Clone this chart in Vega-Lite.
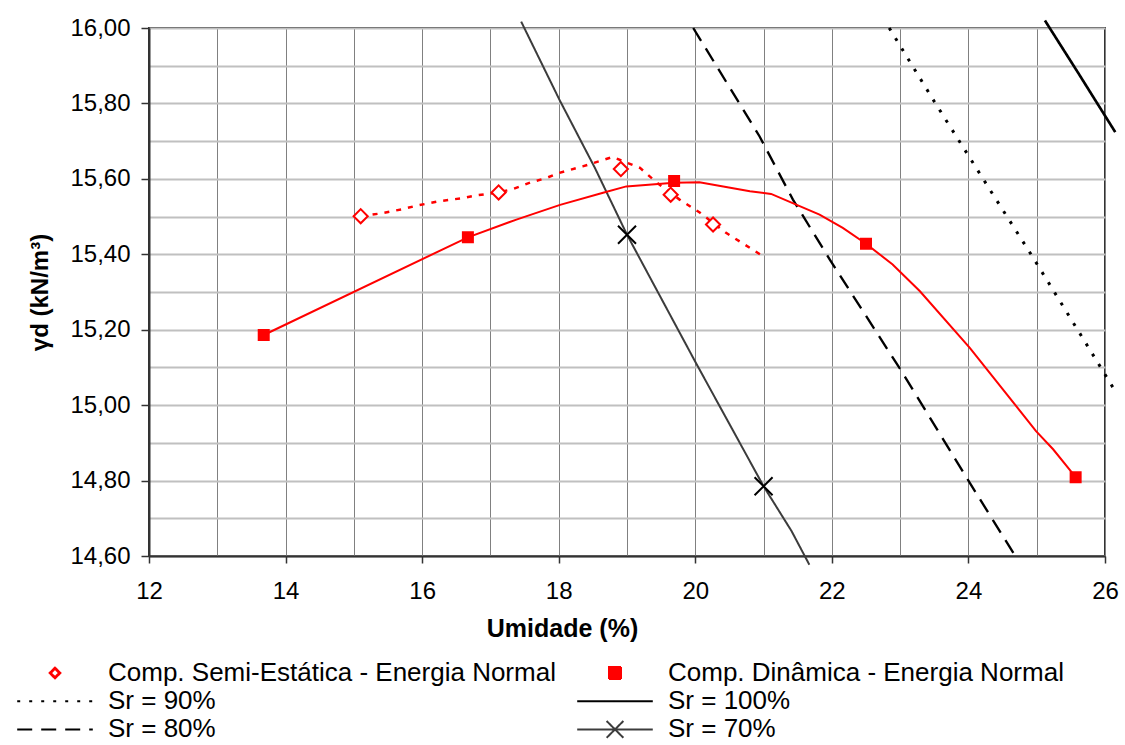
{
  "$schema": "https://vega.github.io/schema/vega-lite/v6.json",
  "width": 956,
  "height": 528,
  "autosize": {"type": "none"},
  "padding": {"left": 149, "top": 28, "right": 20, "bottom": 189},
  "background": "white",
  "config": {
    "font": "Liberation Sans",
    "view": {"stroke": "#333333", "strokeWidth": 2},
    "legend": {
      "orient": "none",
      "legendX": -107,
      "legendY": 632,
      "columns": 2,
      "labelFont": "Liberation Sans",
      "labelFontSize": 26,
      "labelColor": "#000000",
      "labelLimit": 700,
      "labelOffset": 40,
      "symbolSize": 144,
      "symbolStrokeWidth": 2,
      "symbolOpacity": 1,
      "columnPadding": 17,
      "rowPadding": 2.2
    }
  },
  "datasets": {
    "semiEstatica": [
      {"serie": "Comp. Semi-Estática - Energia Normal", "w": 15.10, "gd": 15.501},
      {"serie": "Comp. Semi-Estática - Energia Normal", "w": 17.12, "gd": 15.564},
      {"serie": "Comp. Semi-Estática - Energia Normal", "w": 18.91, "gd": 15.626},
      {"serie": "Comp. Semi-Estática - Energia Normal", "w": 19.64, "gd": 15.558},
      {"serie": "Comp. Semi-Estática - Energia Normal", "w": 20.26, "gd": 15.479}
    ],
    "dinamica": [
      {"serie": "Comp. Dinâmica - Energia Normal", "w": 13.68, "gd": 15.186},
      {"serie": "Comp. Dinâmica - Energia Normal", "w": 16.67, "gd": 15.445},
      {"serie": "Comp. Dinâmica - Energia Normal", "w": 19.69, "gd": 15.594},
      {"serie": "Comp. Dinâmica - Energia Normal", "w": 22.50, "gd": 15.428},
      {"serie": "Comp. Dinâmica - Energia Normal", "w": 25.57, "gd": 14.809}
    ],
    "ajusteSemi": [
      {"w": 15.10, "gd": 15.501}, {"w": 15.38, "gd": 15.508}, {"w": 15.72, "gd": 15.520},
      {"w": 15.92, "gd": 15.529}, {"w": 16.26, "gd": 15.541}, {"w": 16.60, "gd": 15.549},
      {"w": 16.79, "gd": 15.556}, {"w": 17.12, "gd": 15.564}, {"w": 17.33, "gd": 15.573},
      {"w": 17.58, "gd": 15.590}, {"w": 17.83, "gd": 15.603}, {"w": 18.01, "gd": 15.616},
      {"w": 18.35, "gd": 15.633}, {"w": 18.79, "gd": 15.658}, {"w": 19.19, "gd": 15.629},
      {"w": 19.43, "gd": 15.591}, {"w": 19.77, "gd": 15.545}, {"w": 20.07, "gd": 15.510},
      {"w": 20.45, "gd": 15.457}, {"w": 21.00, "gd": 15.394}
    ],
    "ajusteDinamica": [
      {"w": 13.68, "gd": 15.186}, {"w": 16.67, "gd": 15.445}, {"w": 17.38, "gd": 15.492},
      {"w": 18.02, "gd": 15.531}, {"w": 18.65, "gd": 15.563}, {"w": 18.99, "gd": 15.580},
      {"w": 19.69, "gd": 15.590}, {"w": 20.06, "gd": 15.591}, {"w": 20.80, "gd": 15.567},
      {"w": 21.11, "gd": 15.560}, {"w": 21.82, "gd": 15.505}, {"w": 22.16, "gd": 15.470},
      {"w": 22.50, "gd": 15.428}, {"w": 22.89, "gd": 15.373}, {"w": 23.29, "gd": 15.302},
      {"w": 24.02, "gd": 15.152}, {"w": 24.99, "gd": 14.931}, {"w": 25.24, "gd": 14.883},
      {"w": 25.57, "gd": 14.809}
    ],
    "saturacao": [
      {"serie": "Sr = 100%", "w": 25.12, "gd": 16.020},
      {"serie": "Sr = 100%", "w": 25.60, "gd": 15.883},
      {"serie": "Sr = 100%", "w": 26.15, "gd": 15.724},
      {"serie": "Sr = 90%", "w": 22.84, "gd": 16.000},
      {"serie": "Sr = 90%", "w": 23.50, "gd": 15.805},
      {"serie": "Sr = 90%", "w": 24.34, "gd": 15.564},
      {"serie": "Sr = 90%", "w": 24.92, "gd": 15.399},
      {"serie": "Sr = 90%", "w": 25.68, "gd": 15.176},
      {"serie": "Sr = 90%", "w": 26.15, "gd": 15.037},
      {"serie": "Sr = 80%", "w": 19.97, "gd": 16.000},
      {"serie": "Sr = 80%", "w": 20.94, "gd": 15.713},
      {"serie": "Sr = 80%", "w": 21.43, "gd": 15.545},
      {"serie": "Sr = 80%", "w": 21.97, "gd": 15.386},
      {"serie": "Sr = 80%", "w": 23.02, "gd": 15.090},
      {"serie": "Sr = 80%", "w": 24.02, "gd": 14.794},
      {"serie": "Sr = 80%", "w": 24.72, "gd": 14.590},
      {"serie": "Sr = 70%", "w": 17.45, "gd": 16.017},
      {"serie": "Sr = 70%", "w": 18.01, "gd": 15.810},
      {"serie": "Sr = 70%", "w": 18.53, "gd": 15.629},
      {"serie": "Sr = 70%", "w": 19.00, "gd": 15.452},
      {"serie": "Sr = 70%", "w": 20.00, "gd": 15.115},
      {"serie": "Sr = 70%", "w": 21.00, "gd": 14.785},
      {"serie": "Sr = 70%", "w": 21.41, "gd": 14.666},
      {"serie": "Sr = 70%", "w": 21.67, "gd": 14.577}
    ],
    "marcasSr70": [
      {"w": 19.00, "gd": 15.452},
      {"w": 21.00, "gd": 14.785}
    ]
  },
  "encoding": {
    "x": {
      "field": "w",
      "type": "quantitative",
      "scale": {"domain": [12, 26], "nice": false, "zero": false},
      "axis": {
        "title": "Umidade (%)",
        "values": [12, 13, 14, 15, 16, 17, 18, 19, 20, 21, 22, 23, 24, 25, 26],
        "grid": true,
        "gridColor": "#808080",
        "gridWidth": 1,
        "gridOpacity": 1,
        "domainColor": "#333333",
        "domainWidth": 2,
        "tickColor": "#333333",
        "tickWidth": 1.5,
        "tickSize": 7,
        "tickOpacity": {"condition": {"test": "datum.value % 2 === 0", "value": 1}, "value": 0},
        "labelExpr": "datum.value % 2 === 0 ? datum.label : ''",
        "labelFontSize": 24,
        "labelColor": "#000000",
        "labelPadding": 16,
        "labelFlush": false,
        "labelOverlap": false,
        "titleFontSize": 25,
        "titleFontWeight": "bold",
        "titleColor": "#000000",
        "titleX": 413,
        "titleY": 80,
        "titleAlign": "center",
        "titleBaseline": "alphabetic"
      }
    },
    "y": {
      "field": "gd",
      "type": "quantitative",
      "scale": {"domain": [14.6, 16.0], "nice": false, "zero": false},
      "axis": {
        "title": "γd (kN/m³)",
        "values": [14.6, 14.7, 14.8, 14.9, 15.0, 15.1, 15.2, 15.3, 15.4, 15.5, 15.6, 15.7, 15.8, 15.9, 16.0],
        "grid": true,
        "gridColor": "#c0c0c0",
        "gridWidth": 2,
        "gridOpacity": 1,
        "domainColor": "#333333",
        "domainWidth": 2,
        "tickColor": "#333333",
        "tickWidth": 1.5,
        "tickSize": 8,
        "tickOpacity": {"condition": {"test": "round(datum.value * 10) % 2 === 0", "value": 1}, "value": 0},
        "labelExpr": "round(datum.value * 10) % 2 === 0 ? replace(format(datum.value, '.2f'), '.', ',') : ''",
        "labelFontSize": 24,
        "labelColor": "#000000",
        "labelPadding": 11,
        "labelFlush": false,
        "labelOverlap": false,
        "titleFontSize": 24,
        "titleFontWeight": "bold",
        "titleColor": "#000000",
        "titleAngle": -90,
        "titleX": -102,
        "titleY": 264,
        "titleAlign": "center",
        "titleBaseline": "alphabetic"
      }
    }
  },
  "layer": [
    {
      "data": {"name": "saturacao"},
      "mark": {"type": "line", "strokeCap": "butt"},
      "encoding": {
        "color": {
          "field": "serie",
          "type": "nominal",
          "scale": {
            "domain": [
              "Comp. Semi-Estática - Energia Normal",
              "Sr = 90%",
              "Sr = 80%",
              "Comp. Dinâmica - Energia Normal",
              "Sr = 100%",
              "Sr = 70%"
            ],
            "range": ["#ff0000", "#000000", "#000000", "#ff0000", "#000000", "#3c3c3c"]
          },
          "legend": {"title": null}
        },
        "strokeDash": {
          "field": "serie",
          "type": "nominal",
          "scale": {
            "domain": [
              "Comp. Semi-Estática - Energia Normal",
              "Sr = 90%",
              "Sr = 80%",
              "Comp. Dinâmica - Energia Normal",
              "Sr = 100%",
              "Sr = 70%"
            ],
            "range": [[1, 0], [3, 9], [15, 9], [1, 0], [1, 0], [1, 0]]
          },
          "legend": {"title": null}
        },
        "strokeWidth": {
          "field": "serie",
          "type": "nominal",
          "scale": {
            "domain": ["Sr = 90%", "Sr = 100%", "Sr = 80%", "Sr = 70%"],
            "range": [3, 2, 3, 1.3]
          },
          "legend": null
        }
      }
    },
    {
      "data": {"name": "ajusteSemi"},
      "mark": {"type": "line", "color": "#ff0000", "strokeWidth": 2.5, "strokeDash": [5, 7], "strokeCap": "butt"},
      "encoding": {}
    },
    {
      "data": {"name": "ajusteDinamica"},
      "mark": {"type": "line", "color": "#ff0000", "strokeWidth": 2},
      "encoding": {}
    },
    {
      "data": {"name": "semiEstatica"},
      "mark": {"type": "point", "shape": "diamond", "filled": false, "fill": "#ffffff", "size": 200, "strokeWidth": 2, "opacity": 1},
      "encoding": {
        "color": {"field": "serie", "type": "nominal", "legend": {"title": null}}
      }
    },
    {
      "data": {"name": "dinamica"},
      "mark": {"type": "point", "filled": true, "size": 144, "opacity": 1},
      "encoding": {
        "color": {"field": "serie", "type": "nominal", "legend": {"title": null}},
        "shape": {
          "field": "serie",
          "type": "nominal",
          "scale": {
            "domain": [
              "Comp. Semi-Estática - Energia Normal",
              "Sr = 90%",
              "Sr = 80%",
              "Comp. Dinâmica - Energia Normal",
              "Sr = 100%",
              "Sr = 70%"
            ],
            "range": [
              "M-0.9,0L0,-0.9L0.9,0L0,0.9Z M-0.7,0L0,0.7L0.7,0L0,-0.7Z",
              "M-6.3,0H6.3",
              "M-6.3,0H6.3",
              "M-1,-1H1V1H-1Z M-0.75,-0.75H0.75V0.75H-0.75Z M-0.5,-0.5H0.5V0.5H-0.5Z M-0.25,-0.25H0.25V0.25H-0.25Z",
              "M-6.3,0H6.3",
              "M-6.3,0H6.3 M-1.4,-1.4L1.4,1.4 M-1.4,1.4L1.4,-1.4"
            ]
          },
          "legend": {"title": null}
        }
      }
    },
    {
      "data": {"name": "marcasSr70"},
      "mark": {"type": "point", "shape": "M-1,-1L1,1M-1,1L1,-1", "filled": false, "size": 324, "strokeWidth": 2, "color": "#000000", "opacity": 1},
      "encoding": {}
    }
  ]
}
